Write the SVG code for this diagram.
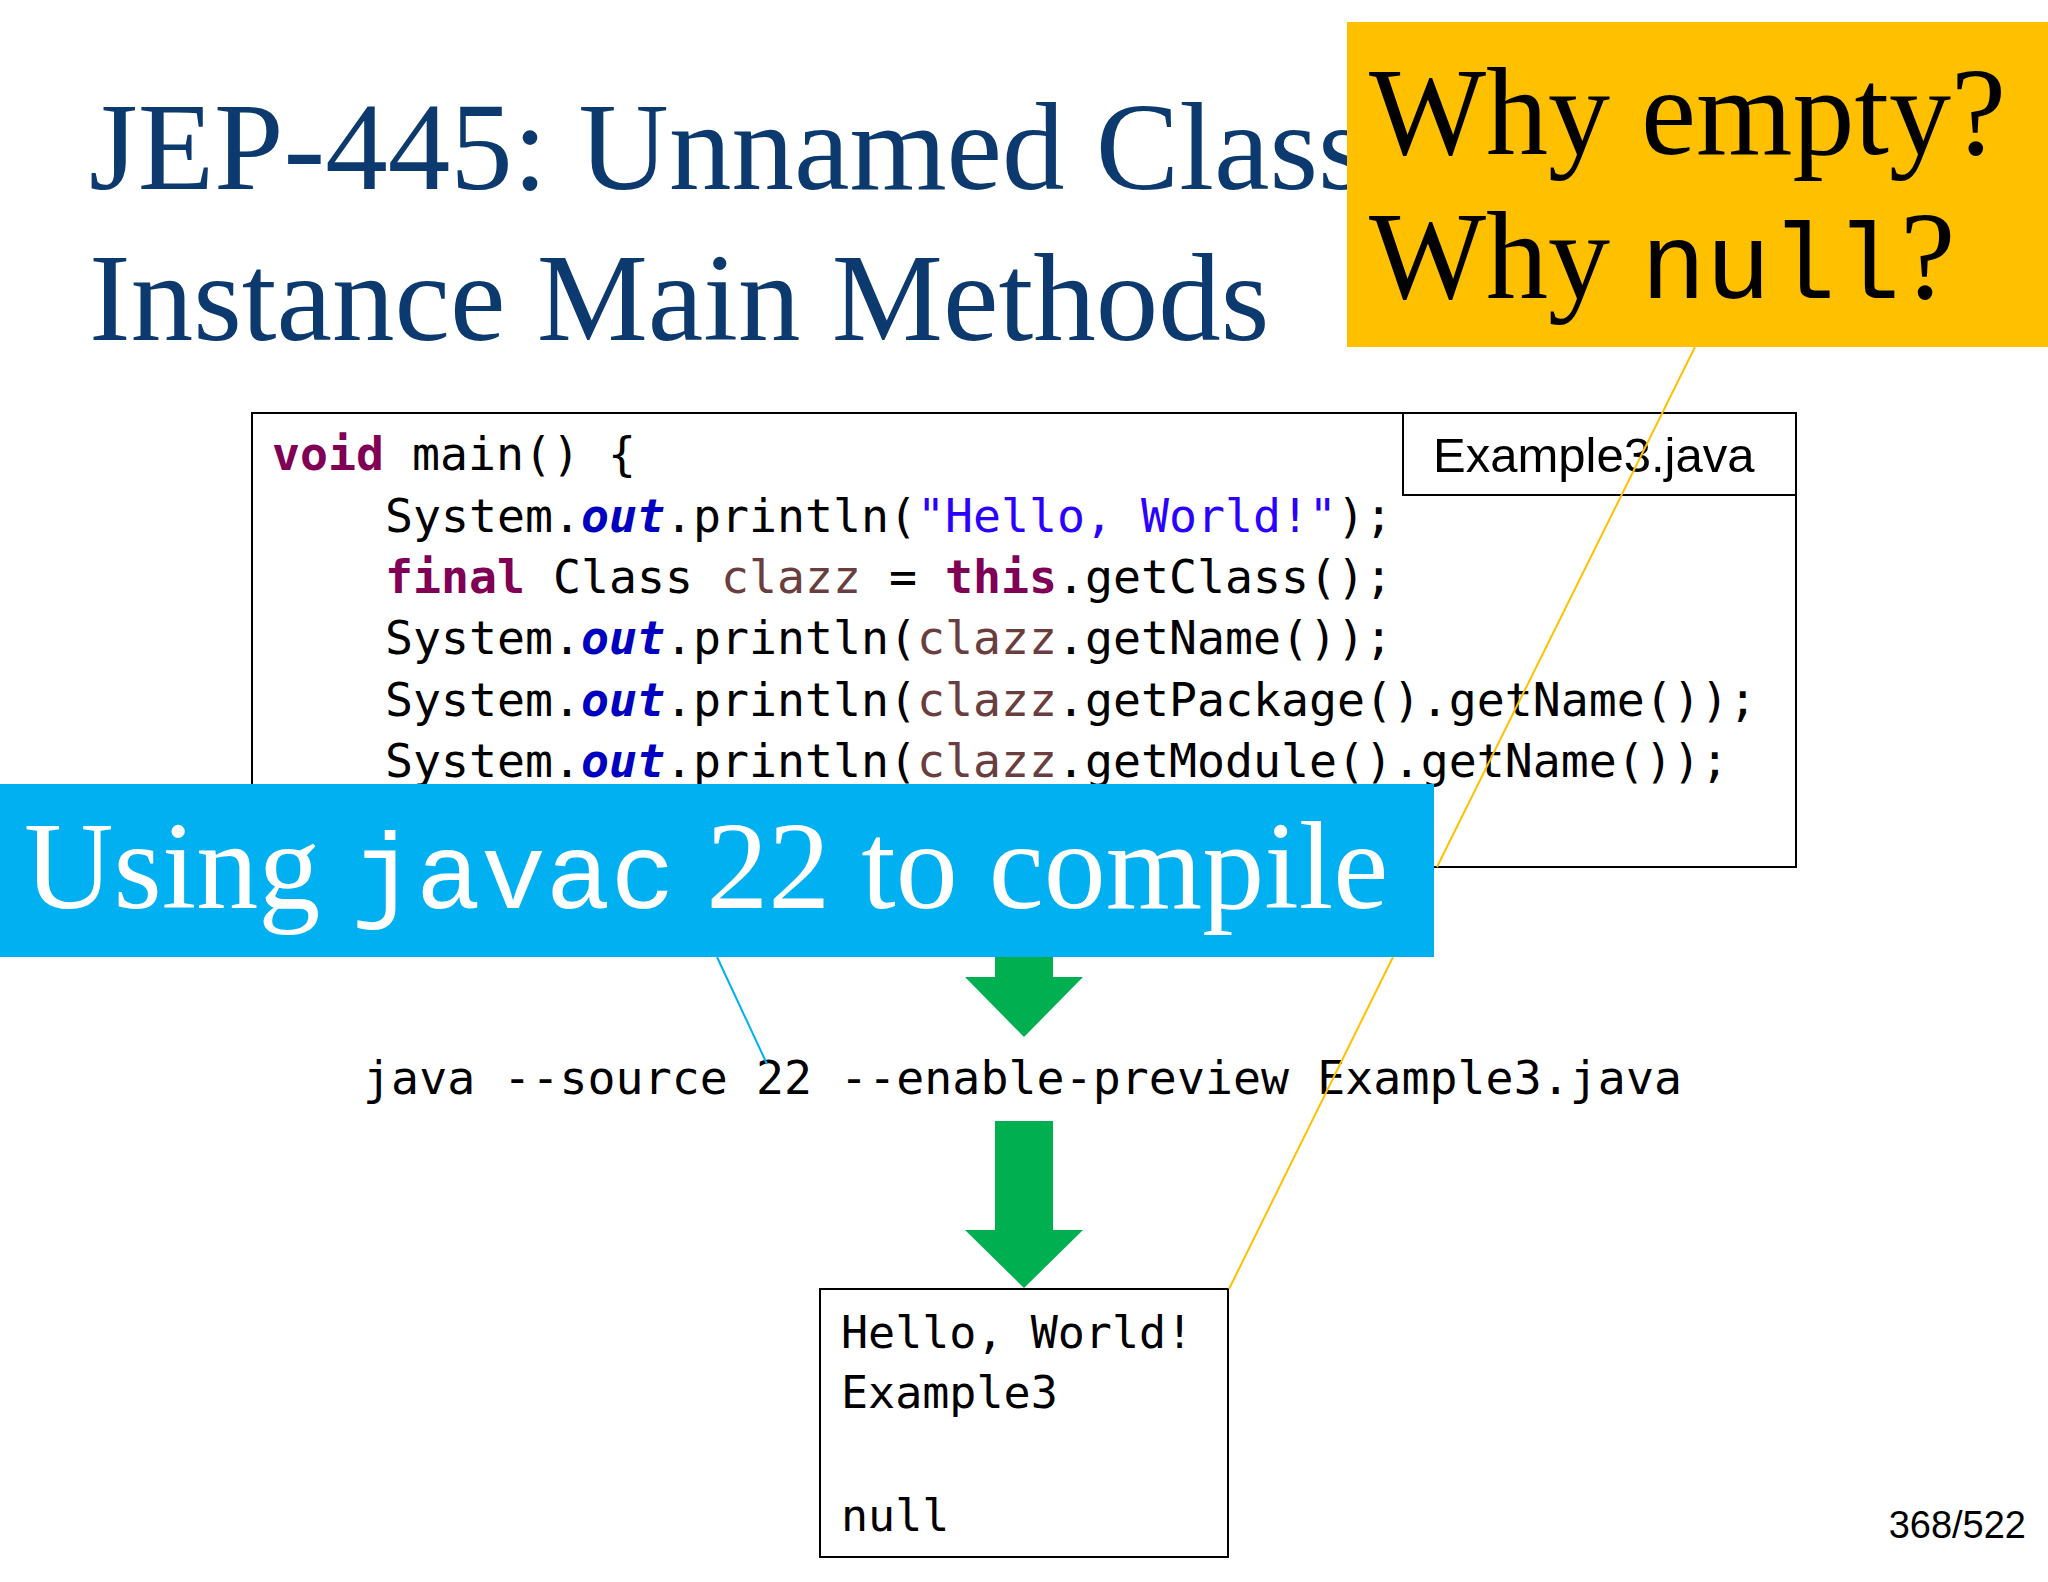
<svg xmlns="http://www.w3.org/2000/svg" width="2048" height="1582" viewBox="0 0 2048 1582">
<style>
.title{font-family:"Liberation Serif",serif;font-size:125px;fill:#0d3a6e}
.code{font-family:"DejaVu Sans Mono",monospace;font-size:46.5px;fill:#000}
.outtxt{font-family:"DejaVu Sans Mono",monospace;font-size:45px;fill:#000}
.kw{fill:#7f0055;font-weight:bold}
.out{fill:#0000c0;font-weight:bold;font-style:italic}
.str{fill:#2a00ff}
.var{fill:#6a3e3e}
.box{fill:#fff;stroke:#000;stroke-width:2}
.arrow{fill:#00b050}
.mono{font-family:"Liberation Mono","Courier New",monospace;font-size:108px}
</style>
<rect width="2048" height="1582" fill="#fff"/>
<g id="title">
<text class="title" x="89" y="189">JEP-445: Unnamed Class</text>
<text class="title" x="89" y="340">Instance Main Methods</text>
</g>
<g id="code-box">
<rect class="box" x="252" y="413" width="1544" height="454"/>
<text class="code" x="272" y="470"><tspan class="kw">void</tspan> main() {</text>
<text class="code" x="385" y="532">System.<tspan class="out">out</tspan>.println(<tspan class="str">"Hello, World!"</tspan>);</text>
<text class="code" x="385" y="593"><tspan class="kw">final</tspan> Class <tspan class="var">clazz</tspan> = <tspan class="kw">this</tspan>.getClass();</text>
<text class="code" x="385" y="654">System.<tspan class="out">out</tspan>.println(<tspan class="var">clazz</tspan>.getName());</text>
<text class="code" x="385" y="716">System.<tspan class="out">out</tspan>.println(<tspan class="var">clazz</tspan>.getPackage().getName());</text>
<text class="code" x="385" y="777">System.<tspan class="out">out</tspan>.println(<tspan class="var">clazz</tspan>.getModule().getName());</text>
</g>
<g id="file-label">
<rect class="box" x="1403" y="413" width="393" height="82"/>
<text x="1433" y="472" font-family="'Liberation Sans',sans-serif" font-size="49">Example3.java</text>
</g>
<g id="orange-note">
<rect x="1347" y="22" width="701" height="325" fill="#ffc000"/>
<text x="1369" y="154" font-family="'Liberation Serif',serif" font-size="124">Why empty?</text>
<text x="1369" y="298" font-family="'Liberation Serif',serif" font-size="124">Why <tspan class="mono">null</tspan>?</text>
</g>
<g id="blue-note">
<rect x="0" y="784" width="1434" height="173" fill="#00b0f0"/>
<text x="24" y="908" font-family="'Liberation Serif',serif" font-size="124" fill="#fff">Using <tspan class="mono">javac</tspan> 22 to compile</text>
</g>
<g id="command">
<text class="code" x="363" y="1094" textLength="1319">java --source 22 --enable-preview Example3.java</text>
</g>
<g id="output-box">
<rect class="box" x="820" y="1289" width="408" height="268"/>
<text class="outtxt" x="841" y="1348">Hello, World!</text>
<text class="outtxt" x="841" y="1408">Example3</text>
<text class="outtxt" x="841" y="1531">null</text>
</g>
<g id="connectors">
<polygon class="arrow" points="995,957 1053,957 1053,977 1083,977 1024,1037 965,977 995,977"/>
<polygon class="arrow" points="995,1121 1053,1121 1053,1230 1083,1230 1024,1288 965,1230 995,1230"/>
<line x1="1695" y1="347" x2="1437" y2="867" stroke="#ffc000" stroke-width="2"/>
<line x1="1393" y1="957" x2="1229" y2="1289" stroke="#ffc000" stroke-width="2"/>
<line x1="717" y1="957" x2="767" y2="1064" stroke="#00b0f0" stroke-width="2"/>
</g>
<text x="2026" y="1538" text-anchor="end" font-family="'Liberation Sans',sans-serif" font-size="38">368/522</text>
</svg>
